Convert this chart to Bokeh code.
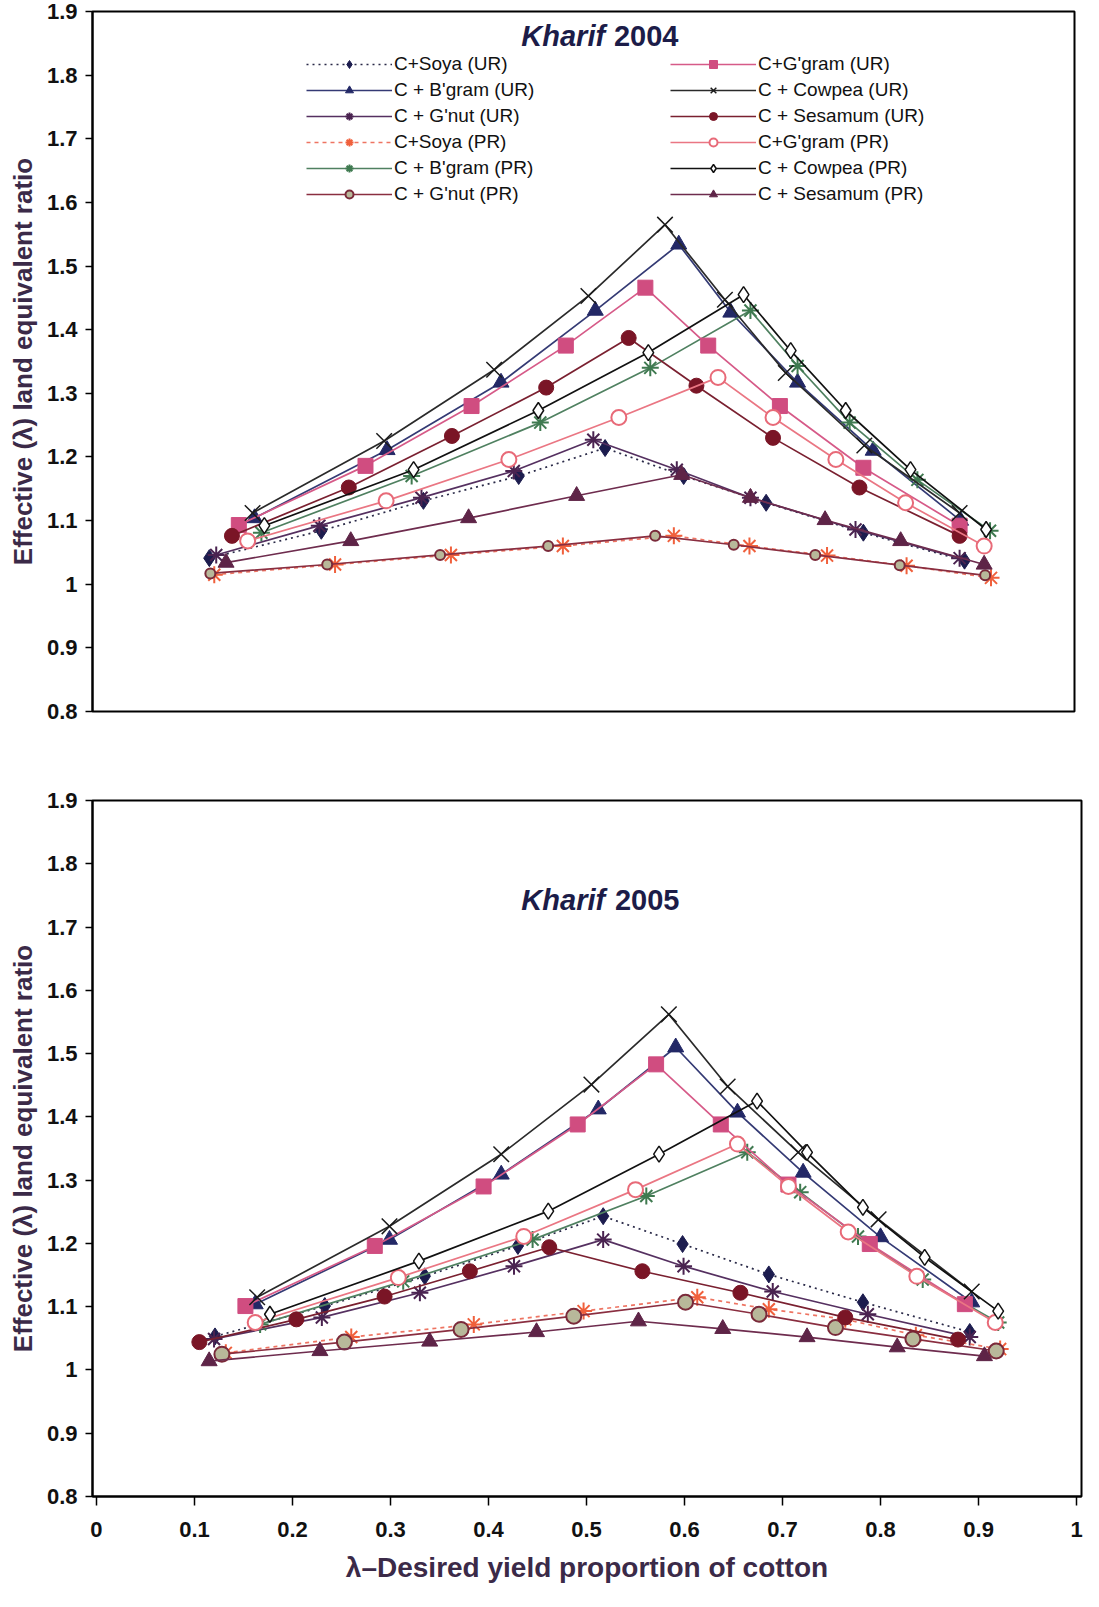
from bokeh.plotting import figure
from bokeh.layouts import column
from bokeh.models import Legend, LegendItem, Label, FixedTicker
from bokeh.embed import file_html
from bokeh.resources import INLINE

# ---------------- data: Kharif 2004 ----------------
soya_ur_x_04 = [0.119, 0.233, 0.337, 0.434, 0.522, 0.602, 0.686, 0.785, 0.888]
soya_ur_y_04 = [1.041, 1.084, 1.131, 1.170, 1.214, 1.170, 1.128, 1.081, 1.037]
bgram_ur_x_04 = [0.165, 0.300, 0.416, 0.512, 0.597, 0.650, 0.718, 0.795, 0.884]
bgram_ur_y_04 = [1.104, 1.211, 1.317, 1.430, 1.534, 1.427, 1.317, 1.210, 1.100]
gnut_ur_x_04 = [0.126, 0.231, 0.335, 0.429, 0.510, 0.595, 0.670, 0.777, 0.883]
gnut_ur_y_04 = [1.046, 1.092, 1.136, 1.178, 1.227, 1.180, 1.136, 1.086, 1.041]
soya_pr_x_04 = [0.124, 0.247, 0.365, 0.479, 0.592, 0.669, 0.748, 0.829, 0.915]
soya_pr_y_04 = [1.015, 1.031, 1.046, 1.060, 1.076, 1.060, 1.045, 1.029, 1.010]
bgram_pr_x_04 = [0.172, 0.325, 0.456, 0.568, 0.670, 0.718, 0.771, 0.840, 0.914]
bgram_pr_y_04 = [1.081, 1.170, 1.254, 1.340, 1.430, 1.343, 1.254, 1.164, 1.084]
gnut_pr_x_04 = [0.120, 0.239, 0.354, 0.464, 0.573, 0.653, 0.736, 0.822, 0.909]
gnut_pr_y_04 = [1.017, 1.031, 1.046, 1.060, 1.076, 1.062, 1.046, 1.030, 1.014]
ggram_ur_x_04 = [0.149, 0.278, 0.386, 0.482, 0.563, 0.627, 0.700, 0.785, 0.883]
ggram_ur_y_04 = [1.093, 1.186, 1.280, 1.375, 1.466, 1.375, 1.280, 1.183, 1.092]
cowpea_ur_x_04 = [0.163, 0.297, 0.409, 0.505, 0.583, 0.644, 0.706, 0.786, 0.883]
cowpea_ur_y_04 = [1.112, 1.225, 1.337, 1.453, 1.565, 1.447, 1.332, 1.218, 1.112]
sesamum_ur_x_04 = [0.142, 0.261, 0.366, 0.462, 0.546, 0.615, 0.693, 0.781, 0.883]
sesamum_ur_y_04 = [1.076, 1.152, 1.233, 1.309, 1.387, 1.312, 1.230, 1.152, 1.076]
ggram_pr_x_04 = [0.158, 0.299, 0.424, 0.536, 0.637, 0.693, 0.757, 0.828, 0.908]
ggram_pr_y_04 = [1.068, 1.131, 1.196, 1.262, 1.325, 1.262, 1.196, 1.128, 1.060]
cowpea_pr_x_04 = [0.175, 0.327, 0.454, 0.566, 0.663, 0.711, 0.767, 0.833, 0.910]
cowpea_pr_y_04 = [1.092, 1.180, 1.273, 1.364, 1.455, 1.367, 1.273, 1.180, 1.086]
sesamum_pr_x_04 = [0.136, 0.263, 0.383, 0.493, 0.600, 0.670, 0.746, 0.823, 0.908]
sesamum_pr_y_04 = [1.034, 1.068, 1.104, 1.139, 1.172, 1.136, 1.101, 1.068, 1.031]

# ---------------- data: Kharif 2005 ----------------
soya_ur_x_05 = [0.121, 0.233, 0.335, 0.430, 0.517, 0.598, 0.686, 0.782, 0.891]
soya_ur_y_05 = [1.053, 1.101, 1.148, 1.196, 1.243, 1.199, 1.151, 1.107, 1.060]
bgram_ur_x_05 = [0.162, 0.299, 0.413, 0.512, 0.591, 0.654, 0.721, 0.800, 0.893]
bgram_ur_y_05 = [1.104, 1.206, 1.309, 1.412, 1.510, 1.407, 1.312, 1.210, 1.107]
gnut_ur_x_05 = [0.120, 0.230, 0.330, 0.426, 0.517, 0.599, 0.690, 0.787, 0.891]
gnut_ur_y_05 = [1.049, 1.083, 1.122, 1.164, 1.206, 1.164, 1.124, 1.088, 1.052]
soya_pr_x_05 = [0.132, 0.260, 0.385, 0.497, 0.613, 0.686, 0.764, 0.836, 0.922]
soya_pr_y_05 = [1.027, 1.052, 1.072, 1.093, 1.115, 1.096, 1.080, 1.055, 1.033]
bgram_pr_x_05 = [0.167, 0.313, 0.445, 0.561, 0.664, 0.718, 0.777, 0.843, 0.920]
bgram_pr_y_05 = [1.072, 1.140, 1.206, 1.275, 1.344, 1.281, 1.211, 1.143, 1.075]
gnut_pr_x_05 = [0.128, 0.253, 0.372, 0.487, 0.601, 0.676, 0.754, 0.833, 0.918]
gnut_pr_y_05 = [1.025, 1.044, 1.064, 1.085, 1.107, 1.088, 1.067, 1.049, 1.030]
ggram_ur_x_05 = [0.152, 0.284, 0.395, 0.491, 0.571, 0.637, 0.706, 0.789, 0.886]
ggram_ur_y_05 = [1.101, 1.196, 1.290, 1.388, 1.483, 1.388, 1.293, 1.199, 1.104]
cowpea_ur_x_05 = [0.164, 0.299, 0.413, 0.505, 0.584, 0.644, 0.716, 0.798, 0.893]
cowpea_ur_y_05 = [1.115, 1.227, 1.341, 1.451, 1.562, 1.448, 1.344, 1.238, 1.124]
sesamum_ur_x_05 = [0.105, 0.204, 0.294, 0.381, 0.462, 0.557, 0.657, 0.764, 0.879]
sesamum_ur_y_05 = [1.044, 1.080, 1.116, 1.156, 1.194, 1.156, 1.122, 1.083, 1.048]
ggram_pr_x_05 = [0.162, 0.308, 0.436, 0.550, 0.654, 0.706, 0.767, 0.837, 0.917]
ggram_pr_y_05 = [1.075, 1.146, 1.211, 1.285, 1.357, 1.290, 1.218, 1.148, 1.075]
cowpea_pr_x_05 = [0.177, 0.329, 0.461, 0.574, 0.674, 0.725, 0.782, 0.845, 0.920]
cowpea_pr_y_05 = [1.088, 1.172, 1.251, 1.341, 1.425, 1.344, 1.257, 1.178, 1.093]
sesamum_pr_x_05 = [0.115, 0.228, 0.340, 0.449, 0.553, 0.639, 0.725, 0.817, 0.906]
sesamum_pr_y_05 = [1.014, 1.030, 1.045, 1.060, 1.077, 1.065, 1.052, 1.036, 1.022]

series_labels = ["C+Soya (UR)", "C + B'gram (UR)", "C + G'nut (UR)", "C+Soya (PR)",
                 "C + B'gram (PR)", "C + G'nut (PR)", "C+G'gram (UR)", "C + Cowpea (UR)",
                 "C + Sesamum (UR)", "C+G'gram (PR)", "C + Cowpea (PR)", "C + Sesamum (PR)"]

y_ticks = [0.8, 0.9, 1.0, 1.1, 1.2, 1.3, 1.4, 1.5, 1.6, 1.7, 1.8, 1.9]
y_tick_labels = ["0.8", "0.9", "1", "1.1", "1.2", "1.3", "1.4", "1.5", "1.6", "1.7", "1.8", "1.9"]
x_ticks = [0.0, 0.1, 0.2, 0.3, 0.4, 0.5, 0.6, 0.7, 0.8, 0.9, 1.0]
x_tick_labels = ["0", "0.1", "0.2", "0.3", "0.4", "0.5", "0.6", "0.7", "0.8", "0.9", "1"]

data04 = [
    (soya_ur_x_04, soya_ur_y_04), (bgram_ur_x_04, bgram_ur_y_04), (gnut_ur_x_04, gnut_ur_y_04),
    (soya_pr_x_04, soya_pr_y_04), (bgram_pr_x_04, bgram_pr_y_04), (gnut_pr_x_04, gnut_pr_y_04),
    (ggram_ur_x_04, ggram_ur_y_04), (cowpea_ur_x_04, cowpea_ur_y_04), (sesamum_ur_x_04, sesamum_ur_y_04),
    (ggram_pr_x_04, ggram_pr_y_04), (cowpea_pr_x_04, cowpea_pr_y_04), (sesamum_pr_x_04, sesamum_pr_y_04),
]
data05 = [
    (soya_ur_x_05, soya_ur_y_05), (bgram_ur_x_05, bgram_ur_y_05), (gnut_ur_x_05, gnut_ur_y_05),
    (soya_pr_x_05, soya_pr_y_05), (bgram_pr_x_05, bgram_pr_y_05), (gnut_pr_x_05, gnut_pr_y_05),
    (ggram_ur_x_05, ggram_ur_y_05), (cowpea_ur_x_05, cowpea_ur_y_05), (sesamum_ur_x_05, sesamum_ur_y_05),
    (ggram_pr_x_05, ggram_pr_y_05), (cowpea_pr_x_05, cowpea_pr_y_05), (sesamum_pr_x_05, sesamum_pr_y_05),
]

# styles: (marker, line color, dash, marker fill, marker line, size, marker line width)
styles = [
    ("diamond", "#2a2a48", "2 4", "#1c1c4e", "#1c1c4e", 17, 1),
    ("triangle", "#343a74", "solid", "#232866", "#232866", 16, 1),
    ("asterisk", "#553060", "solid", None, "#4a2350", 17, 2),
    ("asterisk", "#ee7462", "4 4", None, "#f0603c", 17, 2),
    ("asterisk", "#4f8060", "solid", None, "#3f7a50", 17, 2),
    ("circle", "#8a2e40", "solid", "#b8b89a", "#7a2a3a", 9, 2),
    ("square", "#d65a88", "solid", "#d04d80", "#d04d80", 15, 1),
    ("x", "#2a2a2a", "solid", None, "#1a1a1a", 22, 1.5),
    ("circle", "#7a2030", "solid", "#7a1526", "#7a1526", 15, 1),
    ("circle", "#ea7683", "solid", "white", "#e86a78", 15, 2),
    ("diamond", "#111111", "solid", "white", "#111111", 16, 1.5),
    ("triangle", "#6e2c4e", "solid", "#5e2447", "#5e2447", 16, 1),
]

FONT = "Liberation Sans"
LABEL_COLOR = "#3b2a48"


def style_axes(p):
    p.grid.visible = False
    p.outline_line_color = "black"
    p.outline_line_width = 2
    p.yaxis.ticker = FixedTicker(ticks=y_ticks)
    p.yaxis.major_label_overrides = {t: l for t, l in zip(y_ticks, y_tick_labels)}
    p.yaxis.major_label_text_font = FONT
    p.yaxis.major_label_text_font_style = "bold"
    p.yaxis.major_label_text_font_size = "22px"
    p.yaxis.major_label_text_color = "#111111"
    p.yaxis.major_tick_out = 7
    p.yaxis.major_tick_in = 0
    p.yaxis.minor_tick_out = 0
    p.yaxis.minor_tick_in = 0
    p.yaxis.axis_line_width = 2
    p.yaxis.major_tick_line_width = 1.5
    p.yaxis.axis_label = "Effective (\u03bb) land equivalent ratio"
    p.yaxis.axis_label_text_font = FONT
    p.yaxis.axis_label_text_font_style = "bold"
    p.yaxis.axis_label_text_font_size = "26px"
    p.yaxis.axis_label_text_color = LABEL_COLOR
    p.yaxis.axis_label_standoff = 6
    p.yaxis.major_label_standoff = 8


def draw(p, data, gnut_pr_size):
    items = []
    for i, ((xs, ys), st) in enumerate(zip(data, styles)):
        marker, lc, dash, fill, mline, size, mlw = st
        if i == 5:
            size = gnut_pr_size
        ln = p.line(xs, ys, line_color=lc, line_width=1.7, line_dash=dash)
        sc = p.scatter(xs, ys, marker=marker, size=size,
                       fill_color=fill, line_color=mline, line_width=mlw)
        items.append(LegendItem(label=series_labels[i], renderers=[ln, sc]))
    return items


# ---------------- top chart ----------------
p1 = figure(width=1083, height=760, x_range=(0, 1), y_range=(0.8, 1.9),
            output_backend="svg", toolbar_location=None,
            min_border_left=90, min_border_right=9, min_border_top=11, min_border_bottom=49)
style_axes(p1)
p1.xaxis.visible = False
items = draw(p1, data04, 10)

for col_items, xpos in ((items[:6], 214), (items[6:], 578)):
    lg = Legend(items=col_items, location=(xpos, 506), orientation="vertical",
                border_line_color=None, background_fill_alpha=0,
                label_text_font=FONT, label_text_font_size="19px",
                label_text_color="#111111",
                glyph_width=86, glyph_height=20, label_height=20,
                spacing=4, padding=0, margin=0, label_standoff=2)
    p1.add_layout(lg, "center")

p1.add_layout(Label(x=0.522, y=1.862, text="Kharif", text_align="right", text_baseline="middle",
                    text_font=FONT, text_font_style="bold italic", text_font_size="29px",
                    text_color="#1c1c48"))
p1.add_layout(Label(x=0.531, y=1.862, text="2004", text_align="left", text_baseline="middle",
                    text_font=FONT, text_font_style="bold", text_font_size="29px",
                    text_color="#1c1c48"))

# ---------------- bottom chart ----------------
p2 = figure(width=1090, height=831, x_range=(-0.004, 1.005), y_range=(0.8, 1.9),
            output_backend="svg", toolbar_location=None,
            min_border_left=92, min_border_right=6, min_border_top=40, min_border_bottom=95)
style_axes(p2)
p2.xaxis.ticker = FixedTicker(ticks=x_ticks)
p2.xaxis.major_label_overrides = {t: l for t, l in zip(x_ticks, x_tick_labels)}
p2.xaxis.major_label_text_font = FONT
p2.xaxis.major_label_text_font_style = "bold"
p2.xaxis.major_label_text_font_size = "22px"
p2.xaxis.major_label_text_color = "#111111"
p2.xaxis.major_tick_out = 9
p2.xaxis.major_tick_in = 0
p2.xaxis.minor_tick_out = 0
p2.xaxis.minor_tick_in = 0
p2.xaxis.axis_line_width = 2
p2.xaxis.major_tick_line_width = 1.5
p2.xaxis.major_label_standoff = 16
p2.xaxis.axis_label = "\u03bb\u2013Desired yield proportion of cotton"
p2.xaxis.axis_label_text_font = FONT
p2.xaxis.axis_label_text_font_style = "bold"
p2.xaxis.axis_label_text_font_size = "28px"
p2.xaxis.axis_label_text_color = LABEL_COLOR
p2.xaxis.axis_label_standoff = 12
draw(p2, data05, 15)

p2.add_layout(Label(x=0.519, y=1.742, text="Kharif", text_align="right", text_baseline="middle",
                    text_font=FONT, text_font_style="bold italic", text_font_size="29px",
                    text_color="#1c1c48"))
p2.add_layout(Label(x=0.529, y=1.742, text="2005", text_align="left", text_baseline="middle",
                    text_font=FONT, text_font_style="bold", text_font_size="29px",
                    text_color="#1c1c48"))

layout = column(p1, p2, spacing=0)
open("out.html", "w").write(file_html(layout, INLINE))
